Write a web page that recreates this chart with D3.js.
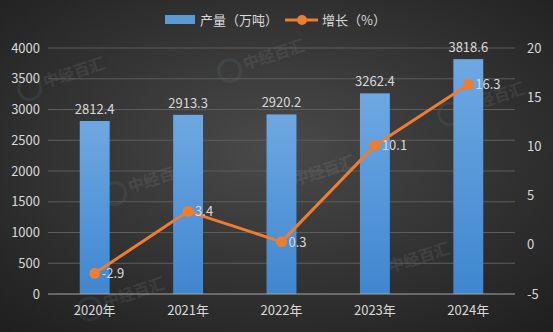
<!DOCTYPE html>
<html><head><meta charset="utf-8">
<script src="https://cdn.jsdelivr.net/npm/d3@7/dist/d3.min.js"></script>
<style>
html,body{margin:0;padding:0;background:#2a2a2a;}
svg{display:block;font-family:"Microsoft YaHei","Noto Sans CJK SC","DejaVu Sans",sans-serif;}
</style></head>
<body>
<svg id="chart" width="553" height="332"></svg>
<script>
const years = ["2020年","2021年","2022年","2023年","2024年"];
const output = [2812.4, 2913.3, 2920.2, 3262.4, 3818.6];
const growth = [-2.9, 3.4, 0.3, 10.1, 16.3];
const leftTicks = [0,500,1000,1500,2000,2500,3000,3500,4000];
const rightTicks = [-5,0,5,10,15,20];

const svg = d3.select("#chart");
const W = 553, H = 332;
const m = {l:48, r:38, t:48, b:38};

const defs = svg.append("defs");
const bg = defs.append("radialGradient").attr("id","bg").attr("cx","50%").attr("cy","45%").attr("r","75%");
bg.append("stop").attr("offset","0%").attr("stop-color","#4a4a4a");
bg.append("stop").attr("offset","100%").attr("stop-color","#1e1e1e");
const bar = defs.append("linearGradient").attr("id","bar").attr("x1",0).attr("y1",0).attr("x2",0).attr("y2",1);
bar.append("stop").attr("offset","0%").attr("stop-color","#6ea8e2");
bar.append("stop").attr("offset","100%").attr("stop-color","#3f87d0");

svg.append("rect").attr("width",W).attr("height",H).attr("fill","url(#bg)");

const x = d3.scaleBand().domain(years).range([m.l, W - m.r]).paddingInner(0.68).paddingOuter(0.34);
const yL = d3.scaleLinear().domain([0,4000]).range([H - m.b, m.t]);
const yR = d3.scaleLinear().domain([-5,20]).range([H - m.b, m.t]);

// faint logo watermarks
const wm = [[250,62],[50,80],[135,185],[300,178],[470,105],[395,265],[110,300]];
wm.forEach(([wx,wy]) => {
  const g = svg.append("g").attr("transform",`translate(${wx},${wy}) rotate(-18)`).attr("opacity",0.07);
  g.append("circle").attr("cx",-22).attr("cy",2).attr("r",11).attr("fill","none").attr("stroke","#9fd0f0").attr("stroke-width",3);
  g.append("text").attr("x",-7).attr("y",6).attr("font-size",16).attr("font-weight","bold").attr("fill","#ffffff").text("中经百汇");
});

// gridlines
svg.append("g").selectAll("line").data(leftTicks.slice(1)).join("line")
  .attr("x1",m.l).attr("x2",W - m.r)
  .attr("y1",d=>yL(d)).attr("y2",d=>yL(d))
  .attr("stroke","#5d5d5d").attr("stroke-width",1);

// bars
svg.append("g").selectAll("rect").data(output).join("rect")
  .attr("x",(d,i)=>x(years[i])).attr("width",x.bandwidth())
  .attr("y",d=>yL(d)).attr("height",d=>yL(0)-yL(d))
  .attr("fill","url(#bar)");

// baseline
svg.append("line").attr("x1",m.l).attr("x2",W - m.r).attr("y1",yL(0)).attr("y2",yL(0))
  .attr("stroke","#a6a6a6").attr("stroke-width",1);

const txt = "#d9d9d9";
const fam = "'Microsoft YaHei','Noto Sans CJK SC',sans-serif";
const fmt = d => String(d);
// left axis
const axL = d3.axisLeft(yL).tickValues(leftTicks).tickFormat(fmt).tickSize(0).tickPadding(8);
svg.append("g").attr("transform",`translate(${m.l},0)`).call(axL)
  .call(g=>g.select(".domain").remove())
  .call(g=>g.selectAll("text").attr("fill",txt).attr("font-size",13).attr("font-family",fam));
// right axis
const axR = d3.axisRight(yR).tickValues(rightTicks).tickFormat(fmt).tickSize(0).tickPadding(12);
svg.append("g").attr("transform",`translate(${W - m.r},0)`).call(axR)
  .call(g=>g.select(".domain").remove())
  .call(g=>g.selectAll("text").attr("fill",txt).attr("font-size",13).attr("font-family",fam));
// x axis
const axX = d3.axisBottom(x).tickSize(0).tickPadding(12);
svg.append("g").attr("transform",`translate(0,${yL(0)})`).call(axX)
  .call(g=>g.select(".domain").remove())
  .call(g=>g.selectAll("text").attr("fill",txt).attr("font-size",13).attr("font-family",fam));

// bar labels
svg.append("g").selectAll("text").data(output).join("text")
  .attr("x",(d,i)=>x(years[i]) + x.bandwidth()/2).attr("y",d=>yL(d) - 7)
  .attr("text-anchor","middle").attr("fill",txt).attr("font-size",13)
  .text(d=>d.toFixed(1));

// growth line
const cx = i => x(years[i]) + x.bandwidth()/2;
const line = d3.line().x((d,i)=>cx(i)).y(d=>yR(d));
svg.append("path").datum(growth).attr("d",line)
  .attr("fill","none").attr("stroke","#ed7d31").attr("stroke-width",3).attr("stroke-linejoin","round");
svg.append("g").selectAll("circle").data(growth).join("circle")
  .attr("cx",(d,i)=>cx(i)).attr("cy",d=>yR(d)).attr("r",5.5).attr("fill","#ed7d31");
svg.append("g").selectAll("text").data(growth).join("text")
  .attr("x",(d,i)=>cx(i) + 7).attr("y",d=>yR(d) + 5)
  .attr("fill",txt).attr("font-size",13)
  .text(d=>d.toFixed(1));

// legend
const lg = svg.append("g");
lg.append("rect").attr("x",165).attr("y",15).attr("width",30).attr("height",9).attr("fill","#5b9bd5");
lg.append("text").attr("x",200).attr("y",25).attr("fill",txt).attr("font-size",13).text("产量（万吨）");
lg.append("line").attr("x1",285).attr("x2",318).attr("y1",20).attr("y2",20).attr("stroke","#ed7d31").attr("stroke-width",3);
lg.append("circle").attr("cx",302).attr("cy",20).attr("r",5).attr("fill","#ed7d31");
lg.append("text").attr("x",322).attr("y",25).attr("fill",txt).attr("font-size",13).text("增长（%）");
</script>
</body></html>
